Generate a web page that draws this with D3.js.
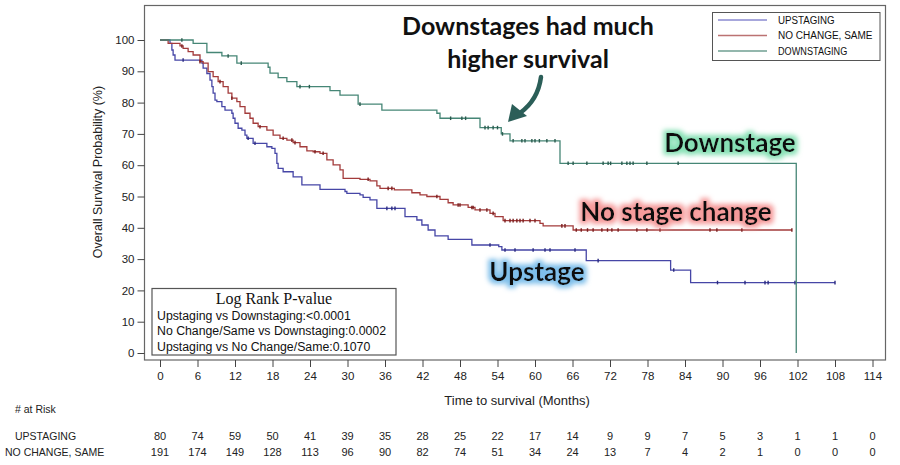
<!DOCTYPE html>
<html><head><meta charset="utf-8">
<script src="https://cdn.jsdelivr.net/npm/d3@7"></script>
<style>
body{margin:0;background:#fff;}
svg{display:block;}
</style></head>
<body><svg id="c" width="900" height="465" font-family="Liberation Sans, Arial, sans-serif"></svg>
<script>
// ---- data ----
const xTicks = [0,6,12,18,24,30,36,42,48,54,60,66,72,78,84,90,96,102,108,114];
const yTicks = [0,10,20,30,40,50,60,70,80,90,100];
const seriesNames = ["UPSTAGING","NO CHANGE, SAME","DOWNSTAGING"];

const upTime = [0,1.6,1.9,2.1,2.4,6.7,6.9,7.5,8.0,8.3,8.5,8.8,9.1,9.9,10.4,11.5,11.7,12.0,12.5,13.1,13.6,13.9,14.9,17.1,17.9,18.4,18.7,18.9,19.7,21.3,22.7,25.6,29.6,29.9,32.0,32.5,33.6,34.7,39.2,41.1,41.9,42.9,44.0,46.1,49.9,54.2,54.7,68.2,81.7,84.9,108];
const upSurv = [100,98.9,96.8,95.2,93.6,92.6,91.0,89.3,87.2,85.1,83.0,80.8,80.3,78.7,77.6,76.6,75.0,73.4,71.8,71.2,69.6,68.6,67.0,65.9,65.4,63.8,60.6,59.0,57.9,56.3,53.7,52.3,51.6,51.0,50.5,49.7,48.9,46.2,43.6,42.5,40.9,39.3,37.4,36.3,34.5,34.0,32.9,29.5,26.5,22.5,22.5];
const upCensor = [3.7,14.1,15.2,36.3,37.1,37.6,52.8,55.2,56.8,59.7,61.6,62.4,66.4,70.1,82.2,89.2,93.6,96.8,97.3,101.6,108];

const ncTime = [0,1.3,3.2,3.7,4.5,5.3,6.4,6.9,7.7,8.5,9.3,10.1,10.9,11.5,12.3,12.8,13.6,14.4,14.9,15.7,17.1,18.1,19.2,20.3,21.3,22.4,23.5,24.5,25.6,26.7,27.7,28.8,29.3,32.0,33.6,34.7,35.2,37.5,40.3,41.6,42.7,44.8,46.1,46.9,49.3,50.4,52.8,53.6,54.9,60.8,61.3,66.1,101.1];
const ncSurv = [100,98.9,98.1,97.3,96.3,95.2,93.1,92.6,89.9,88.3,86.7,85.1,83.0,81.4,80.3,78.7,76.6,75.0,73.4,72.3,71.2,69.6,68.6,68.0,67.2,65.9,64.6,64.3,63.8,61.7,60.1,58.5,55.8,55.5,55.0,53.4,52.6,52.1,51.2,50.5,50.0,49.1,48.0,47.3,46.5,45.7,44.6,43.6,42.3,41.4,40.6,39.3,39.3];
const ncCensor = [3.5,6.4,9.6,11.5,16.0,19.7,21.1,21.6,24.8,26.1,33.3,36.5,37.1,44.3,47.7,48.0,49.9,50.1,51.2,52.3,53.3,55.2,56.0,56.5,57.1,57.6,58.1,59.2,60.0,64.3,64.8,66.6,67.4,68.4,69.3,70.7,71.6,72.3,73.3,76.3,77.9,80.0,88.0,89.1,93.1,101.1];

const dnTime = [0,5.3,7.5,9.9,12.3,17.3,17.6,18.9,20.3,21.9,27.2,28.8,31.7,35.5,44.3,44.8,51.2,54.6,56.0,64.0,101.8];
const dnSurv = [100,98.9,96.0,94.9,92.6,91.3,89.4,88.0,86.7,85.1,83.8,82.4,79.5,77.6,76.6,75.0,72.0,70.0,67.8,60.6,0];
const dnCensor = [3.5,10.9,13.0,22.4,23.9,32.0,46.5,48.3,48.9,52.0,52.5,53.3,54.0,54.8,56.5,57.9,58.4,59.5,60.0,60.7,61.9,63.2,65.3,66.1,68.3,70.9,71.7,72.1,73.9,74.7,75.2,75.7,77.9,82.9];

const atRiskUp = [80,74,59,50,41,39,35,28,25,22,17,14,9,9,7,5,3,1,1,0];
const atRiskNc = [191,174,149,128,113,96,90,82,74,51,34,24,13,7,4,2,1,0,0,0];

const pTitle = "Log Rank P-value";
const pLines = ["Upstaging vs Downstaging:<0.0001","No Change/Same vs Downstaging:0.0002","Upstaging vs No Change/Same:0.1070"];

// ---- drawing ----
const svg = d3.select("#c");
const x = d3.scaleLinear().domain([0,114]).range([160,872.5]);
const y = d3.scaleLinear().domain([0,100]).range([353,40]);

const colors = ["#4646a6","#a33b3b","#468676"];
const legendColors = ["#8a8ad0","#bb7272","#6f9f92"];
const censorColors = ["#2a2a80","#7a1f1f","#2a5a4e"];

// frame
svg.append("rect").attr("x",144.5).attr("y",5.5).attr("width",741).attr("height",354.5)
  .attr("fill","none").attr("stroke","#666").attr("stroke-width",1.2);

// y axis
const yAxis = d3.axisLeft(y).tickValues(yTicks).tickSize(7).tickPadding(3);
const gy = svg.append("g").attr("transform","translate(144.5,0)").call(yAxis);
gy.attr("font-family",null);
gy.select(".domain").remove();
gy.selectAll("line").attr("stroke","#444");
gy.selectAll("text").attr("font-size",11.5).attr("fill","#222");

// x axis
const xAxis = d3.axisBottom(x).tickValues(xTicks).tickSize(7).tickPadding(5);
const gx = svg.append("g").attr("transform","translate(0,360)").call(xAxis);
gx.attr("font-family",null);
gx.select(".domain").remove();
gx.selectAll("line").attr("stroke","#444");
gx.selectAll("text").attr("font-size",11.5).attr("fill","#222");

svg.append("text").attr("x",517).attr("y",405).attr("text-anchor","middle").attr("font-size",13).attr("fill","#222")
  .text("Time to survival (Months)");
svg.append("text").attr("transform","translate(102,172) rotate(-90)").attr("text-anchor","middle")
  .attr("font-size",12.5).attr("fill","#222").text("Overall Survival Probability (%)");

// curves
const series = [
  {t:upTime,s:upSurv,c:upCensor},
  {t:ncTime,s:ncSurv,c:ncCensor},
  {t:dnTime,s:dnSurv,c:dnCensor}
];
const line = d3.line().x(d=>x(d[0])).y(d=>y(d[1])).curve(d3.curveStepAfter);
function survAt(sr,t){let v=sr.s[0];for(let i=0;i<sr.t.length;i++){if(sr.t[i]<=t)v=sr.s[i];else break;}return v;}
series.forEach((sr,i)=>{
  const pts = sr.t.map((t,j)=>[t,sr.s[j]]);
  svg.append("path").attr("d",line(pts)).attr("fill","none").attr("stroke",colors[i]).attr("stroke-width",1.3);
  svg.append("g").selectAll("line").data(sr.c).join("line")
    .attr("x1",d=>x(d)).attr("x2",d=>x(d))
    .attr("y1",d=>y(survAt(sr,d))-1.8).attr("y2",d=>y(survAt(sr,d))+1.8)
    .attr("stroke",censorColors[i]).attr("stroke-width",1.4);
});

// legend
const lg = svg.append("g");
lg.append("rect").attr("x",712.5).attr("y",12.5).attr("width",167.5).attr("height",48).attr("fill","#fff").attr("stroke","#555").attr("stroke-width",1);
seriesNames.forEach((n,i)=>{
  const yy = 20+i*15.5;
  lg.append("line").attr("x1",718).attr("x2",767).attr("y1",yy).attr("y2",yy).attr("stroke",legendColors[i]).attr("stroke-width",1.3);
  lg.append("text").attr("x",778).attr("y",yy+3.5).attr("font-size",10).attr("fill","#111")
    .attr("textLength", n.length*6.3).attr("lengthAdjust","spacingAndGlyphs").text(n);
});

// p-value box
const pb = svg.append("g");
pb.append("rect").attr("x",152).attr("y",288.5).attr("width",244).attr("height",66.5).attr("fill","#fff").attr("stroke","#555").attr("stroke-width",1.2);
pb.append("text").attr("x",274).attr("y",303.5).attr("text-anchor","middle").attr("font-family","Liberation Serif, Times New Roman, serif")
  .attr("font-size",16).attr("fill","#111").text(pTitle);
pLines.forEach((l,i)=>{
  pb.append("text").attr("x",157).attr("y",320+i*15.3).attr("font-size",12.3).attr("fill","#111").text(l);
});

// at risk table
svg.append("text").attr("x",15).attr("y",413).attr("font-size",10.5).attr("fill","#222").text("# at Risk");
svg.append("text").attr("x",15).attr("y",440).attr("font-size",10.5).attr("fill","#222").text(seriesNames[0]);
svg.append("text").attr("x",5).attr("y",456).attr("font-size",10.5).attr("fill","#222").text(seriesNames[1]);
svg.append("g").selectAll("text").data(atRiskUp).join("text")
  .attr("x",(d,i)=>x(xTicks[i])).attr("y",440).attr("text-anchor","middle").attr("font-size",11).attr("fill","#222").text(d=>d);
svg.append("g").selectAll("text").data(atRiskNc).join("text")
  .attr("x",(d,i)=>x(xTicks[i])).attr("y",456).attr("text-anchor","middle").attr("font-size",11).attr("fill","#222").text(d=>d);

// glow filters
const defs = svg.append("defs");
function glow(id,color){
  const f = defs.append("filter").attr("id",id).attr("x","-20%").attr("y","-60%").attr("width","140%").attr("height","220%");
  f.append("feMorphology").attr("in","SourceAlpha").attr("operator","dilate").attr("radius",2.5).attr("result","d");
  f.append("feGaussianBlur").attr("in","d").attr("stdDeviation",2.5).attr("result","b");
  f.append("feFlood").attr("flood-color",color).attr("result","fl");
  f.append("feComposite").attr("in","fl").attr("in2","b").attr("operator","in").attr("result","g");
  const m = f.append("feMerge");
  m.append("feMergeNode").attr("in","g");
  m.append("feMergeNode").attr("in","SourceGraphic");
}
glow("gGreen","#86e0b4");
glow("gRed","#f59a9a");
glow("gBlue","#7fbfea");

const annFont = "Lato, 'Open Sans', sans-serif";
function ann(txt,xx,yy,fs,filt){
  svg.append("text").attr("x",xx).attr("y",yy).attr("text-anchor","middle").attr("font-family",annFont)
    .attr("font-weight",700).attr("font-size",fs).attr("fill","#111").attr("filter",filt?`url(#${filt})`:null).text(txt);
}
ann("Downstages had much",528,35,25,null);
ann("higher survival",528,68,25,null);
ann("Downstage",730,152,26,"gGreen");
ann("No stage change",676,221,26,"gRed");
ann("Upstage",537,281,26,"gBlue");

// arrow
svg.append("path").attr("d","M541,77 Q538,100 520,113").attr("fill","none").attr("stroke","#2b5e58").attr("stroke-width",4.5).attr("stroke-linecap","round");
svg.append("path").attr("d","M508,122 L512,104 L527,116 Z").attr("fill","#2b5e58");
</script></body></html>
